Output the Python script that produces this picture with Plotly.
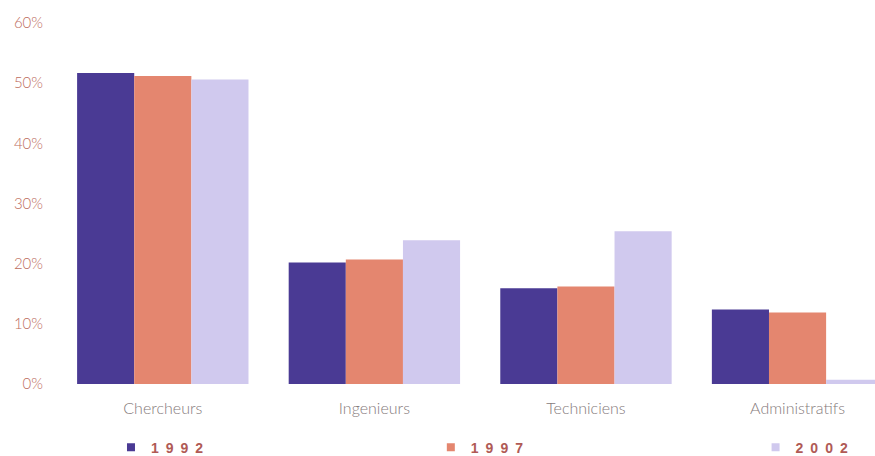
import plotly.graph_objects as go

categories = ["Chercheurs", "Ingenieurs", "Techniciens", "Administratifs"]
years = ["1992", "1997", "2002"]
values_1992 = [51.7, 20.2, 15.9, 12.4]
values_1997 = [51.2, 20.7, 16.2, 11.9]
values_2002 = [50.6, 23.9, 25.4, 0.7]
tick_values = [0, 10, 20, 30, 40, 50, 60]
tick_labels = ["0%", "10%", "20%", "30%", "40%", "50%", "60%"]

colors = ["#4a3a94", "#e4866f", "#d0c9ee"]
series = [values_1992, values_1997, values_2002]
legend_ids = ["legend", "legend2", "legend3"]
legend_x = [0.066, 0.457, 0.854]

fig = go.Figure()

for year, vals, color in zip(years, series, colors):
    fig.add_trace(go.Bar(
        x=categories,
        y=vals,
        marker=dict(color=color, line=dict(width=0)),
        showlegend=False,
        hoverinfo="skip",
    ))

# legend entries with small square symbols, one legend box per year
for year, color, lid in zip(years, colors, legend_ids):
    fig.add_trace(go.Scatter(
        x=[None], y=[None],
        mode="markers",
        marker=dict(symbol="square", size=8, color=color),
        name="\u2002".join(year),
        legend=lid,
    ))

legend_style = dict(
    orientation="h",
    xanchor="left",
    y=-0.176,
    yanchor="middle",
    font=dict(family="Arial", size=14, weight="bold", color="#b05a55"),
    bgcolor="rgba(0,0,0,0)",
)

fig.update_layout(
    width=875,
    height=456,
    margin=dict(l=57, r=0, t=23, b=72, autoexpand=False),
    plot_bgcolor="white",
    paper_bgcolor="white",
    barmode="group",
    bargap=0.19,
    bargroupgap=0,
    font=dict(family="Lato", size=14),
    xaxis=dict(
        range=[-0.5, 3.366],
        showgrid=False,
        showline=False,
        zeroline=False,
        ticks="",
        tickfont=dict(color="#857a7b", size=16, weight=300),
        ticklabelstandoff=13,
    ),
    yaxis=dict(
        range=[0, 60],
        tickvals=tick_values,
        ticktext=tick_labels,
        showgrid=False,
        showline=False,
        zeroline=False,
        ticks="",
        tickfont=dict(color="#bd6c5c", size=15, weight=300),
        ticklabelstandoff=13,
    ),
    legend=dict(x=legend_x[0], **legend_style),
    legend2=dict(x=legend_x[1], **legend_style),
    legend3=dict(x=legend_x[2], **legend_style),
)

# drop the default page margin so the figure sits at the window's corner
fig.write_html(
    "out.html",
    config={"displayModeBar": False},
    post_script="document.body.style.margin='0';",
)
